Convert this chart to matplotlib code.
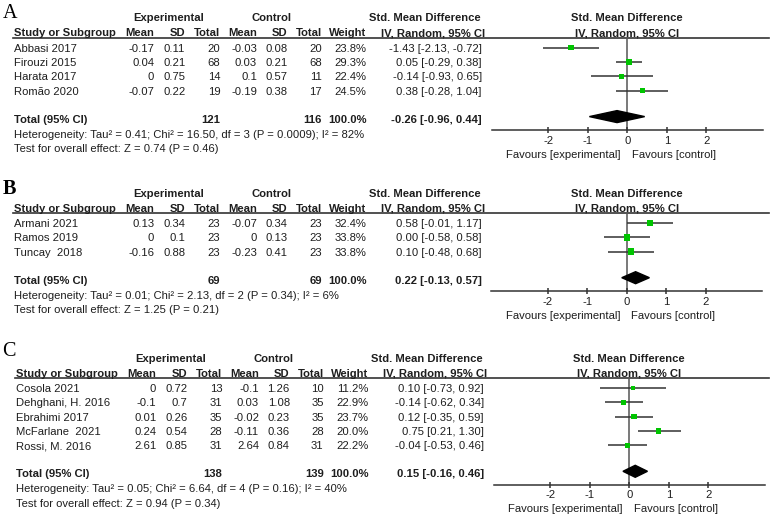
import numpy as np
import matplotlib
matplotlib.use("Agg")
import matplotlib.pyplot as plt
from matplotlib.patches import Polygon

plt.rcParams['font.family'] = ['Liberation Sans', 'DejaVu Sans']
plt.rcParams['font.size'] = 8.1
plt.rcParams['axes.unicode_minus'] = False

# ----------------------------
# Panel A data
# ----------------------------
studies_a = ["Abbasi 2017", "Firouzi 2015", "Harata 2017", "Romão 2020"]
exp_mean_a = [-0.17, 0.04, 0, -0.07]
exp_sd_a = [0.11, 0.21, 0.75, 0.22]
exp_n_a = [20, 68, 14, 19]
ctl_mean_a = [-0.03, 0.03, 0.1, -0.19]
ctl_sd_a = [0.08, 0.21, 0.57, 0.38]
ctl_n_a = [20, 68, 11, 17]
weight_a = [23.8, 29.3, 22.4, 24.5]
smd_a = [-1.43, 0.05, -0.14, 0.38]
lo_a = [-2.13, -0.29, -0.93, -0.28]
hi_a = [-0.72, 0.38, 0.65, 1.04]
total_a = [121, 116, -0.26, -0.96, 0.44]
het_a = "Heterogeneity: Tau² = 0.41; Chi² = 16.50, df = 3 (P = 0.0009); I² = 82%"
test_a = "Test for overall effect: Z = 0.74 (P = 0.46)"

# ----------------------------
# Panel B data
# ----------------------------
studies_b = ["Armani 2021", "Ramos 2019", "Tuncay  2018"]
exp_mean_b = [0.13, 0, -0.16]
exp_sd_b = [0.34, 0.1, 0.88]
exp_n_b = [23, 23, 23]
ctl_mean_b = [-0.07, 0, -0.23]
ctl_sd_b = [0.34, 0.13, 0.41]
ctl_n_b = [23, 23, 23]
weight_b = [32.4, 33.8, 33.8]
smd_b = [0.58, 0.00, 0.10]
lo_b = [-0.01, -0.58, -0.48]
hi_b = [1.17, 0.58, 0.68]
total_b = [69, 69, 0.22, -0.13, 0.57]
het_b = "Heterogeneity: Tau² = 0.01; Chi² = 2.13, df = 2 (P = 0.34); I² = 6%"
test_b = "Test for overall effect: Z = 1.25 (P = 0.21)"

# ----------------------------
# Panel C data
# ----------------------------
studies_c = ["Cosola 2021", "Dehghani, H. 2016", "Ebrahimi 2017", "McFarlane  2021", "Rossi, M. 2016"]
exp_mean_c = [0, -0.1, 0.01, 0.24, 2.61]
exp_sd_c = [0.72, 0.7, 0.26, 0.54, 0.85]
exp_n_c = [13, 31, 35, 28, 31]
ctl_mean_c = [-0.1, 0.03, -0.02, -0.11, 2.64]
ctl_sd_c = [1.26, 1.08, 0.23, 0.36, 0.84]
ctl_n_c = [10, 35, 35, 28, 31]
weight_c = [11.2, 22.9, 23.7, 20.0, 22.2]
smd_c = [0.10, -0.14, 0.12, 0.75, -0.04]
lo_c = [-0.73, -0.62, -0.35, 0.21, -0.53]
hi_c = [0.92, 0.34, 0.59, 1.30, 0.46]
total_c = [138, 139, 0.15, -0.16, 0.46]
het_c = "Heterogeneity: Tau² = 0.05; Chi² = 6.64, df = 4 (P = 0.16); I² = 40%"
test_c = "Test for overall effect: Z = 0.94 (P = 0.34)"

tick_vals = [-2, -1, 0, 1, 2]
tick_labels = ["-2", "-1", "0", "1", "2"]

# ----------------------------
# Layout (pixels)
# ----------------------------
W, H = 777, 518
TXT = '#1e1e1e'
GREEN = '#00c400'
LINE = '#333333'
UNIT = 39.5      # px per SMD unit
XMAX = 3.43
ROW = 14.3
BASE = 4.0       # text center -> baseline offset
cols = [154.3, 185.3, 220.3, 257.0, 287.8, 321.7, 366.7]
smd_col = 481.7

fig = plt.figure(figsize=(W / 100, H / 100), dpi=100)
tab = fig.add_axes([0, 0, 1, 1])
tab.set_xlim(0, W)
tab.set_ylim(H, 0)
tab.axis('off')


def fmt(v):
    return f"{v:g}"


def put(ax, x, y, s, ha='left', bold=False):
    ax.text(x, y + BASE, s, ha=ha, va='baseline', color=TXT,
            fontweight='bold' if bold else 'normal')


def draw_panel(label, top, dx, zero_x, label_y, bold_label,
               studies, em, esd, en, cm, csd, cn, w, est, lo, hi, tot, het, test):
    # panel letter
    tab.text(2.5, top + label_y, label, family='Liberation Serif', fontsize=14.5,
             fontweight='bold' if bold_label else 'normal', va='baseline', ha='left', color='black')

    # headers
    h1 = top + 17.3
    h2 = top + 32.3
    line_y = top + 37.5
    put(tab, 169 + dx, h1, "Experimental", 'center', True)
    put(tab, 271 + dx, h1, "Control", 'center', True)
    put(tab, 425 + dx, h1, "Std. Mean Difference", 'center', True)
    put(tab, 433 + dx, h2, "IV, Random, 95% CI", 'center', True)
    put(tab, 13.5 + dx, h2, "Study or Subgroup", 'left', True)
    for x, name in zip(cols, ["Mean", "SD", "Total", "Mean", "SD", "Total", "Weight"]):
        put(tab, x + dx, h2, name, 'right', True)
    tab.plot([13 + dx, 769], [line_y, line_y], color=LINE, lw=1.2)

    # study rows
    ys = [top + 47.7 + i * ROW for i in range(len(studies))]
    for i, y in enumerate(ys):
        put(tab, 13.5 + dx, y, studies[i])
        vals = [fmt(em[i]), fmt(esd[i]), str(en[i]), fmt(cm[i]), fmt(csd[i]), str(cn[i]),
                f"{w[i]:.1f}%"]
        for x, v in zip(cols, vals):
            put(tab, x + dx, y, v, 'right')
        put(tab, smd_col + dx, y, f"{est[i]:.2f} [{lo[i]:.2f}, {hi[i]:.2f}]", 'right')

    # total row
    ty = ys[-1] + 28
    put(tab, 13.5 + dx, ty, "Total (95% CI)", 'left', True)
    put(tab, cols[2] + dx, ty, str(tot[0]), 'right', True)
    put(tab, cols[5] + dx, ty, str(tot[1]), 'right', True)
    put(tab, cols[6] + dx, ty, "100.0%", 'right', True)
    put(tab, smd_col + dx, ty, f"{tot[2]:.2f} [{tot[3]:.2f}, {tot[4]:.2f}]", 'right', True)
    put(tab, 13.5 + dx, ty + 15, het)
    put(tab, 13.5 + dx, ty + 29.4, test)

    # forest axes
    axis_y = ty + 11.5
    left = zero_x - XMAX * UNIT
    ax = fig.add_axes([left / W, 1 - axis_y / H, 2 * XMAX * UNIT / W, (axis_y - line_y) / H])
    ax.set_xlim(-XMAX, XMAX)
    ax.set_ylim(axis_y, line_y)
    ax.patch.set_alpha(0)
    for s in ['top', 'left', 'right']:
        ax.spines[s].set_visible(False)
    ax.spines['bottom'].set_color(LINE)
    ax.spines['bottom'].set_linewidth(1.1)
    ax.set_yticks([])
    ax.set_xticks(tick_vals)
    ax.set_xticklabels(tick_labels)
    ax.tick_params(axis='x', direction='inout', length=5, width=1.1, color=LINE,
                   pad=1.5, labelsize=8.1, labelcolor=TXT)
    ax.axvline(0, color='#555555', lw=1.1, zorder=1)

    ax.hlines(ys, lo, hi, color=LINE, lw=1.1, zorder=2)
    sizes = [(1.12 * np.sqrt(v) * 0.72) ** 2 for v in w]
    ax.scatter(est, ys, s=sizes, marker='s', color=GREEN, edgecolors='none', zorder=3)

    dc = ty - 2
    dia = Polygon([[tot[3], dc], [tot[2], dc - 6], [tot[4], dc], [tot[2], dc + 6]],
                  closed=True, color='black', zorder=4)
    ax.add_patch(dia)

    put(ax, 0, h1, "Std. Mean Difference", 'center', True)
    put(ax, 0, h2, "IV, Random, 95% CI", 'center', True)
    put(ax, -6.6 / UNIT, axis_y + 23.5, "Favours [experimental]", 'right')
    put(ax, 4.4 / UNIT, axis_y + 23.5, "Favours [control]", 'left')


draw_panel("A", 0, 0, 627.3, 18.5, False,
           studies_a, exp_mean_a, exp_sd_a, exp_n_a, ctl_mean_a, ctl_sd_a, ctl_n_a,
           weight_a, smd_a, lo_a, hi_a, total_a, het_a, test_a)
draw_panel("B", 175.4, 0, 626.9, 19, True,
           studies_b, exp_mean_b, exp_sd_b, exp_n_b, ctl_mean_b, ctl_sd_b, ctl_n_b,
           weight_b, smd_b, lo_b, hi_b, total_b, het_b, test_b)
draw_panel("C", 340.4, 2, 629.3, 16, False,
           studies_c, exp_mean_c, exp_sd_c, exp_n_c, ctl_mean_c, ctl_sd_c, ctl_n_c,
           weight_c, smd_c, lo_c, hi_c, total_c, het_c, test_c)

fig.savefig("out.png", dpi=100)
